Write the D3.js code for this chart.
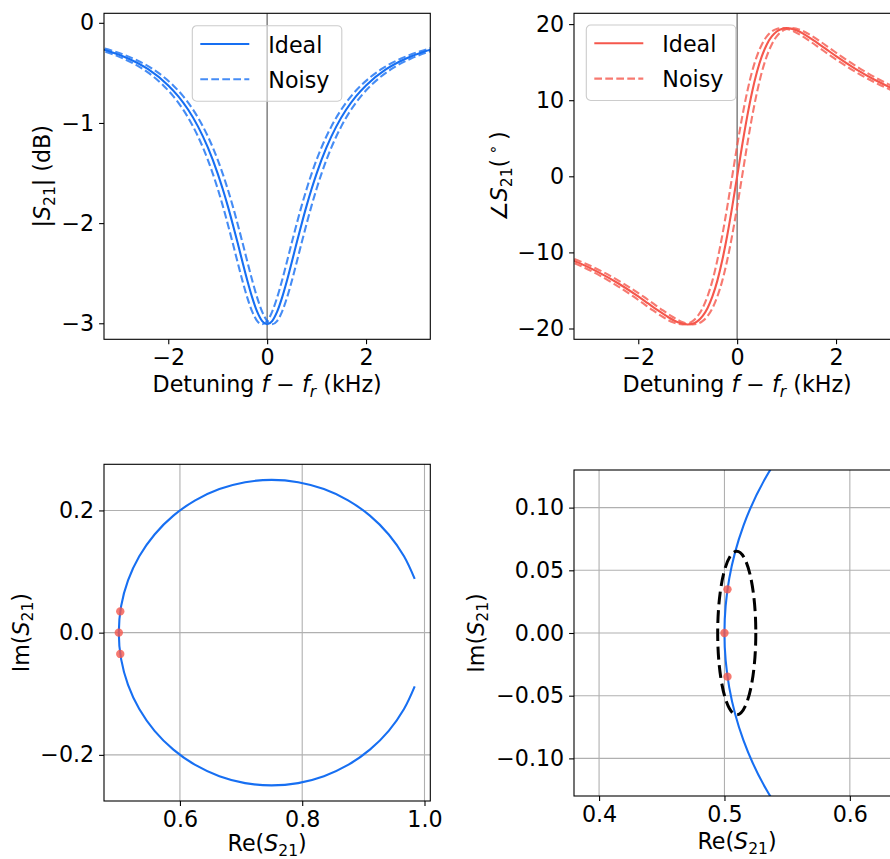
<!DOCTYPE html>
<html>
<head>
<meta charset="utf-8">
<script src="https://cdn.jsdelivr.net/npm/d3@7"></script>
<style>
  body { margin: 0; background: #fff; }
  svg text { font-family: "DejaVu Sans", sans-serif; fill: #000; }
</style>
</head>
<body>
<div id="main"></div>
<script>
// detuning grid (kHz) and the values
const detuningKHz = [-3.6, -3.2, -2.8, -2.4, -2.0, -1.8, -1.6, -1.4, -1.2, -1.0, -0.9, -0.8, -0.7, -0.6, -0.5, -0.4, -0.3, -0.2, -0.1, 0,
  0.1, 0.2, 0.3, 0.4, 0.5, 0.6, 0.7, 0.8, 0.9, 1.0, 1.2, 1.4, 1.6, 1.8, 2.0, 2.4, 2.8, 3.2, 3.6];
const noisyLowKHz = [-3.7, -3.3, -2.9, -2.5, -2.1, -1.9, -1.7, -1.5, -1.3, -1.1, -1.0, -0.9, -0.8, -0.7, -0.6, -0.5, -0.4, -0.3, -0.2, -0.1,
  0, 0.1, 0.2, 0.3, 0.4, 0.5, 0.6, 0.7, 0.8, 0.9, 1.1, 1.3, 1.5, 1.7, 1.9, 2.3, 2.7, 3.1, 3.5];
const noisyHighKHz = [-3.5, -3.1, -2.7, -2.3, -1.9, -1.7, -1.5, -1.3, -1.1, -0.9, -0.8, -0.7, -0.6, -0.5, -0.4, -0.3, -0.2, -0.1, 0, 0.1,
  0.2, 0.3, 0.4, 0.5, 0.6, 0.7, 0.8, 0.9, 1.0, 1.1, 1.3, 1.5, 1.7, 1.9, 2.1, 2.5, 2.9, 3.3, 3.7];
const magnitudeDb = [-0.229, -0.284, -0.359, -0.466, -0.625, -0.732, -0.866, -1.034, -1.244, -1.505, -1.657, -1.823, -2.003, -2.192, -2.386, -2.575, -2.746, -2.886, -2.978, -3.010,
  -2.978, -2.886, -2.746, -2.575, -2.386, -2.192, -2.003, -1.823, -1.657, -1.505, -1.244, -1.034, -0.866, -0.732, -0.625, -0.466, -0.359, -0.284, -0.229];
const phaseDeg = [-10.34, -11.38, -12.62, -14.09, -15.79, -16.71, -17.63, -18.49, -19.18, -19.47, -19.37, -19.03, -18.38, -17.33, -15.79, -13.71, -11.01, -7.74, -4.01, 0,
  4.01, 7.74, 11.01, 13.71, 15.79, 17.33, 18.38, 19.03, 19.37, 19.47, 19.18, 18.49, 17.63, 16.71, 15.79, 14.09, 12.62, 11.38, 10.34];

// resonance circle in the IQ plane
const iqRe = [0.9840, 0.9665, 0.9415, 0.9107, 0.8750, 0.8355, 0.7934, 0.7500, 0.7066, 0.6645, 0.6250, 0.5893, 0.5585, 0.5335, 0.5151, 0.5038, 0.5000,
  0.5038, 0.5151, 0.5335, 0.5585, 0.5893, 0.6250, 0.6645, 0.7066, 0.7500, 0.7934, 0.8355, 0.8750, 0.9107, 0.9415, 0.9665, 0.9840];
const iqIm = [0.0880, 0.1250, 0.1607, 0.1915, 0.2165, 0.2349, 0.2462, 0.2500, 0.2462, 0.2349, 0.2165, 0.1915, 0.1607, 0.1250, 0.0855, 0.0434, 0,
  -0.0434, -0.0855, -0.1250, -0.1607, -0.1915, -0.2165, -0.2349, -0.2462, -0.2500, -0.2462, -0.2349, -0.2165, -0.1915, -0.1607, -0.1250, -0.0880];
const sampleRe = [0.5024, 0.5000, 0.5024];
const sampleIm = [0.0348, 0.0000, -0.0348];
const ellipseCenter = [0.5098, 0];
const ellipseRadii = [0.0152, 0.0652];

const legendLabels = ['Ideal', 'Noisy'];
const detuningTicks = [-2, 0, 2];
const magTicks = [0, -1, -2, -3];
const phaseTicks = [-20, -10, 0, 10, 20];
const iqReTicks = [0.6, 0.8, 1.0];
const iqImTicks = [-0.2, 0, 0.2];
const zoomReTicks = [0.4, 0.5, 0.6];
const zoomImTicks = [-0.10, -0.05, 0, 0.05, 0.10];

const FS = 22.2;
const BLUE = '#176ff2';
const RED = '#f5574c';

class Panel {
  constructor(svg, config) {
    this.svg = svg;
    this.config = config;
    this.g = null;
    this.plot = null;
    this.xScale = null;
    this.yScale = null;

    this.createMargins();
    this.createScales();
  }

  createMargins() {
    const c = this.config;
    this.g = this.svg.append('g')
      .attr('transform', `translate(${c.left},${c.top})`);
    this.g.append('clipPath').attr('id', c.id + '-clip')
      .append('rect').attr('width', c.width).attr('height', c.height);
    this.back = this.g.append('g');
    this.plot = this.g.append('g').attr('clip-path', `url(#${c.id}-clip)`);
    this.front = this.g.append('g');
  }

  createScales() {
    const c = this.config;
    this.xScale = d3.scaleLinear().domain(c.xDomain).range([0, c.width]);
    this.yScale = d3.scaleLinear().domain(c.yDomain).range([c.height, 0]);
  }

  renderGrid(xTicks, yTicks) {
    const c = this.config;
    this.back.selectAll('.gx').data(xTicks).join('line')
      .attr('x1', d => this.xScale(d)).attr('x2', d => this.xScale(d))
      .attr('y1', 0).attr('y2', c.height)
      .attr('stroke', '#b0b0b0').attr('stroke-width', 1.1);
    this.back.selectAll('.gy').data(yTicks).join('line')
      .attr('y1', d => this.yScale(d)).attr('y2', d => this.yScale(d))
      .attr('x1', 0).attr('x2', c.width)
      .attr('stroke', '#b0b0b0').attr('stroke-width', 1.1);
  }

  renderVLine(x) {
    this.plot.append('line')
      .attr('x1', this.xScale(x)).attr('x2', this.xScale(x))
      .attr('y1', 0).attr('y2', this.config.height)
      .attr('stroke', '#808080').attr('stroke-width', 1.5);
  }

  renderLine(xs, ys, style) {
    const pts = xs.map((x, i) => [x, ys[i]]);
    const line = d3.line()
      .x(d => this.xScale(d[0]))
      .y(d => this.yScale(d[1]))
      .curve(style.curve || d3.curveMonotoneX);
    this.plot.append('path')
      .attr('d', line(pts))
      .attr('fill', 'none')
      .attr('stroke', style.color)
      .attr('stroke-width', style.width || 2.1)
      .attr('stroke-opacity', style.opacity || 1)
      .attr('stroke-dasharray', style.dash || null);
  }

  renderPoints(xs, ys, color) {
    this.plot.selectAll('circle.pt')
      .data(xs.map((x, i) => [x, ys[i]]))
      .join('circle')
      .attr('cx', d => this.xScale(d[0]))
      .attr('cy', d => this.yScale(d[1]))
      .attr('r', 4.2)
      .attr('fill', color)
      .attr('fill-opacity', 0.8);
  }

  renderEllipse(center, radii) {
    const cx = this.xScale(center[0]);
    const cy = this.yScale(center[1]);
    this.plot.append('ellipse')
      .attr('cx', cx).attr('cy', cy)
      .attr('rx', this.xScale(center[0] + radii[0]) - cx)
      .attr('ry', cy - this.yScale(center[1] + radii[1]))
      .attr('fill', 'none')
      .attr('stroke', '#000')
      .attr('stroke-width', 3)
      .attr('stroke-dasharray', '12.8,5.6');
  }

  renderAxes(xTicks, yTicks, xFmt, yFmt) {
    const c = this.config;
    const xa = this.front.append('g')
      .attr('transform', `translate(0,${c.height})`)
      .call(d3.axisBottom(this.xScale).tickValues(xTicks).tickFormat(d3.format(xFmt)).tickSize(4.9).tickPadding(5.3));
    const ya = this.front.append('g')
      .call(d3.axisLeft(this.yScale).tickValues(yTicks).tickFormat(d3.format(yFmt)).tickSize(4.9).tickPadding(4.9));
    [xa, ya].forEach(a => {
      a.attr('font-size', null).attr('font-family', null);
      a.select('.domain').remove();
      a.selectAll('line').attr('stroke', '#000').attr('stroke-width', 1.1);
      a.selectAll('text').style('font-size', FS + 'px');
    });
    this.front.append('rect')
      .attr('width', c.width).attr('height', c.height)
      .attr('fill', 'none').attr('stroke', '#000').attr('stroke-width', 1.1);
  }

  mathText(sel, parts) {
    parts.forEach(p => {
      const t = sel.append('tspan').text(p.t);
      if (p.it) t.attr('font-style', 'italic');
      if (p.sub) t.attr('font-size', (FS * 0.7) + 'px').attr('dy', 4.5);
      if (p.sup) t.attr('font-size', (FS * 0.7) + 'px').attr('dy', -9);
      if (p.back) t.attr('dy', p.back);
    });
  }

  renderLabels(xParts, yParts, yOffset) {
    const c = this.config;
    const xl = this.front.append('text')
      .attr('x', c.width / 2)
      .attr('y', c.height + (c.labelGap || 53))
      .attr('text-anchor', 'middle')
      .style('font-size', FS + 'px');
    this.mathText(xl, xParts);
    const yl = this.front.append('text')
      .attr('transform', `translate(${yOffset},${c.height / 2}) rotate(-90)`)
      .attr('text-anchor', 'middle')
      .style('font-size', FS + 'px');
    this.mathText(yl, yParts);
  }

  renderLegend(box, color) {
    const lg = this.front.append('g').attr('transform', `translate(${box[0]},${box[1]})`);
    lg.append('rect')
      .attr('width', 149.5).attr('height', 75.5).attr('rx', 4.4)
      .attr('fill', '#fff').attr('fill-opacity', 0.55)
      .attr('stroke', '#cccccc').attr('stroke-width', 1.1);
    lg.selectAll('g.row').data(legendLabels).join('g')
      .attr('transform', (d, i) => `translate(0,${18.3 + i * 35.3})`)
      .each(function (d, i) {
        const row = d3.select(this);
        row.append('line')
          .attr('x1', 8).attr('x2', 57).attr('y1', 0).attr('y2', 0)
          .attr('stroke', color).attr('stroke-width', 2.1)
          .attr('stroke-opacity', i ? 0.8 : 1)
          .attr('stroke-dasharray', i ? '7.7,3.3' : null);
        row.append('text').attr('x', 76).attr('y', 8.6)
          .style('font-size', FS + 'px').text(d);
      });
  }
}

function main() {
  const svg = d3.select('#main').append('svg')
    .attr('width', 890).attr('height', 859);

  const detuningLabel = [{t: 'Detuning '}, {t: 'f', it: true}, {t: ' \u2212 '}, {t: 'f', it: true},
    {t: 'r', it: true, sub: true}, {t: ' (kHz)', back: -4.5}];

  // magnitude
  const mag = new Panel(svg, {id: 'mag', left: 104, top: 13.3, width: 326.3, height: 326, xDomain: [-3.3, 3.3], yDomain: [-3.16, 0.095]});
  mag.renderVLine(0);
  mag.renderLine(detuningKHz, magnitudeDb, {color: BLUE});
  mag.renderLine(noisyLowKHz, magnitudeDb, {color: BLUE, dash: '7.7,3.3', opacity: 0.8});
  mag.renderLine(noisyHighKHz, magnitudeDb, {color: BLUE, dash: '7.7,3.3', opacity: 0.8});
  mag.renderAxes(detuningTicks, magTicks, 'd', 'd');
  mag.renderLabels(detuningLabel,
    [{t: '|'}, {t: 'S', it: true}, {t: '21', sub: true}, {t: '| (dB)', back: -4.5}], -54);
  mag.renderLegend([88.3, 12.4], BLUE);

  // phase
  const ph = new Panel(svg, {id: 'ph', left: 574, top: 13.3, width: 326.3, height: 326, xDomain: [-3.3, 3.3], yDomain: [-21.42, 21.42]});
  ph.renderVLine(0);
  ph.renderLine(detuningKHz, phaseDeg, {color: RED});
  ph.renderLine(noisyLowKHz, phaseDeg, {color: RED, dash: '7.7,3.3', opacity: 0.8});
  ph.renderLine(noisyHighKHz, phaseDeg, {color: RED, dash: '7.7,3.3', opacity: 0.8});
  ph.renderAxes(detuningTicks, phaseTicks, 'd', 'd');
  ph.renderLabels(detuningLabel,
    [{t: '\u2220'}, {t: 'S', it: true}, {t: '21', sub: true}, {t: '(\u2009', back: -4.5}, {t: '\u2218', sup: true}, {t: '\u2009)', back: 9}], -67);
  ph.renderLegend([12.3, 11.7], RED);

  const reLabel = [{t: 'Re('}, {t: 'S', it: true}, {t: '21', sub: true}, {t: ')', back: -4.5}];
  const imLabel = [{t: 'Im('}, {t: 'S', it: true}, {t: '21', sub: true}, {t: ')', back: -4.5}];

  // full IQ circle
  const iq = new Panel(svg, {id: 'iq', left: 104, top: 464.3, width: 326.3, height: 336.7, xDomain: [0.4758, 1.0095], yDomain: [-0.2755, 0.2755], labelGap: 50.5});
  iq.renderGrid(iqReTicks, iqImTicks);
  iq.renderLine(iqRe, iqIm, {color: BLUE, curve: d3.curveCatmullRom});
  iq.renderPoints(sampleRe, sampleIm, RED);
  iq.renderAxes(iqReTicks, iqImTicks, '.1f', '.1f');
  iq.renderLabels(reLabel, imLabel, -75.5);

  // zoom near resonance
  const zm = new Panel(svg, {id: 'zm', left: 574, top: 470, width: 326, height: 326, xDomain: [0.38, 0.64], yDomain: [-0.13, 0.13]});
  zm.renderGrid(zoomReTicks, zoomImTicks);
  zm.renderLine(iqRe, iqIm, {color: BLUE, curve: d3.curveCatmullRom});
  zm.renderPoints(sampleRe, sampleIm, RED);
  zm.renderEllipse(ellipseCenter, ellipseRadii);
  zm.renderAxes(zoomReTicks, zoomImTicks, '.1f', '.2f');
  zm.renderLabels(reLabel, imLabel, -90.5);
}

main();
</script>
</body>
</html>
